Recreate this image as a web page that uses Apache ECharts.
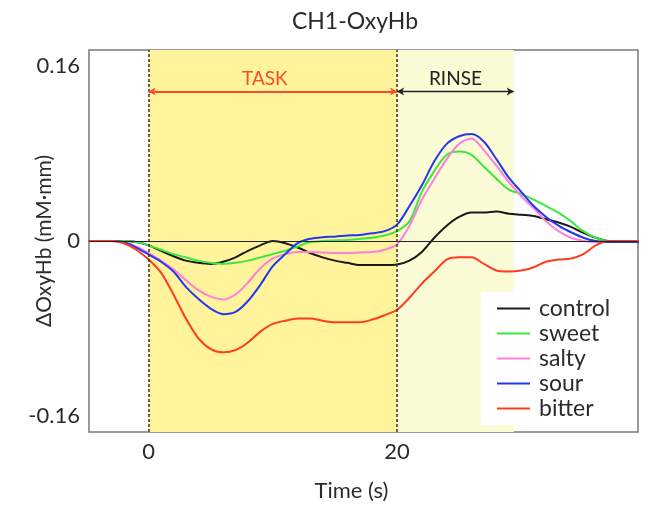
<!DOCTYPE html>
<html>
<head>
<meta charset="utf-8">
<script src="https://cdn.jsdelivr.net/npm/echarts@6/dist/echarts.min.js"></script>
<style>
    html, body { margin: 0; padding: 0; background: #fff; }
</style>
</head>
<body>
<div id="main" style="width: 648px;height:506px;"></div>
<script type="text/javascript">
    // 时间轴 (s)
    var times = [-5, -4, -3, -2, -1, 0, 1, 2, 3, 4, 5, 6, 7, 8, 9, 10, 11, 12, 13, 14, 15, 16, 17, 18, 19, 20,
        21, 22, 23, 24, 25, 26, 27, 28, 29, 30, 31, 32, 33, 34, 35, 36, 37, 38, 39, 40];

    var names = ['control', 'sweet', 'salty', 'sour', 'bitter'];
    var colors = ['#1a1a1a', '#3de83d', '#ff7fdc', '#2438ee', '#ff3c1e'];

    var control = [0, 0, 0, 0, -0.001, -0.004, -0.009, -0.014, -0.018, -0.020, -0.021, -0.019, -0.015, -0.009, -0.004, 0.000,
        -0.002, -0.006, -0.011, -0.015, -0.018, -0.020, -0.022, -0.022, -0.022, -0.0215,
        -0.018, -0.010, 0.003, 0.014, 0.022, 0.026, 0.026, 0.027, 0.025, 0.024, 0.023, 0.020, 0.017, 0.013, 0.0075, 0.003, 0, 0, 0, 0];
    var sweet = [0, 0, 0, 0, -0.001, -0.004, -0.008, -0.012, -0.015, -0.018, -0.020, -0.021, -0.020, -0.018, -0.015, -0.012,
        -0.009, -0.005, -0.001, 0.000, 0.0005, 0.001, 0.002, 0.003, 0.005, 0.009,
        0.018, 0.045, 0.064, 0.079, 0.082, 0.079, 0.068, 0.057, 0.047, 0.043, 0.038, 0.032, 0.026, 0.018, 0.009, 0.003, 0, 0, 0, 0];
    var salty = [0, 0, 0, -0.001, -0.005, -0.011, -0.018, -0.026, -0.036, -0.045, -0.051, -0.0535, -0.049, -0.038, -0.025, -0.016,
        -0.012, -0.010, -0.010, -0.0105, -0.011, -0.011, -0.0105, -0.010, -0.008, -0.003,
        0.014, 0.038, 0.057, 0.075, 0.089, 0.094, 0.083, 0.069, 0.054, 0.041, 0.030, 0.018, 0.009, 0.003, 0, -0.001, -0.001, -0.001, -0.001, -0.001];
    var sour = [0, 0, 0, -0.001, -0.006, -0.0124, -0.019, -0.028, -0.042, -0.053, -0.062, -0.067, -0.065, -0.055, -0.040, -0.023,
        -0.012, -0.002, 0.002, 0.0035, 0.004, 0.005, 0.0055, 0.007, 0.009, 0.015,
        0.032, 0.051, 0.073, 0.089, 0.096, 0.098, 0.091, 0.075, 0.058, 0.045, 0.032, 0.022, 0.014, 0.008, 0.003, 0, -0.001, -0.001, -0.001, -0.001];
    var bitter = [0, 0, 0, -0.002, -0.008, -0.017, -0.029, -0.049, -0.071, -0.089, -0.099, -0.102, -0.100, -0.093, -0.083, -0.076,
        -0.073, -0.071, -0.071, -0.073, -0.0745, -0.0745, -0.0745, -0.072, -0.068, -0.063,
        -0.052, -0.039, -0.028, -0.017, -0.015, -0.015, -0.021, -0.027, -0.028, -0.027, -0.024, -0.019, -0.017, -0.016, -0.012, -0.004, 0, 0, 0, 0];

    var yTicks = [-0.16, 0, 0.16];
    var xTicks = [0, 20];
    // 阶段: TASK 0-20 s, RINSE 20-29.4 s
    var taskStart = 0, taskEnd = 20, rinseEnd = 29.4;
    var arrowY = 0.137;

    var font = 'Lato';
    var textColor = '#2b2b2b';

    function pairs(vals) {
        return times.map(function (t, i) { return [t, vals[i]]; });
    }

    var allVals = [control, sweet, salty, sour, bitter];

    var myChart = echarts.init(document.getElementById('main'));

    var series = names.map(function (n, i) {
        return {
            name: n,
            type: 'line',
            data: pairs(allVals[i]),
            smooth: 0.3,
            showSymbol: false,
            clip: true,
            color: colors[i],
            lineStyle: { width: 2, color: colors[i] },
            z: 3
        };
    });

    // 背景、零线、虚线和箭头
    series.unshift({
        name: 'annot',
        type: 'line',
        data: [],
        silent: true,
        z: 1,
        markArea: {
            silent: true,
            data: [
                [{ xAxis: taskStart, itemStyle: { color: '#fff39c' } }, { xAxis: taskEnd }],
                [{ xAxis: taskEnd, itemStyle: { color: '#fbfbd6' } }, { xAxis: rinseEnd }]
            ]
        },
        markLine: {
            silent: true,
            symbol: ['none', 'none'],
            label: { show: false },
            data: [
                { yAxis: 0, lineStyle: { color: '#222', width: 1.2, type: 'solid' } },
                { xAxis: taskStart, lineStyle: { color: '#333', width: 1.5, type: [3, 2] } },
                { xAxis: taskEnd, lineStyle: { color: '#333', width: 1.5, type: [3, 2] } },
                [
                    { coord: [taskStart, arrowY], symbol: 'arrow', symbolSize: [6, 7],
                      lineStyle: { color: '#ff4a2a', width: 1.8, type: 'solid' },
                      label: { show: true, position: 'insideMiddleTop', formatter: 'TASK', color: '#ff4a2a',
                               fontFamily: font, fontSize: 19, distance: 3, offset: [-8, 0] } },
                    { coord: [taskEnd, arrowY], symbol: 'arrow', symbolSize: [6, 7] }
                ],
                [
                    { coord: [taskEnd, arrowY], symbol: 'arrow', symbolSize: [6, 7],
                      lineStyle: { color: '#222', width: 1.3, type: 'solid' },
                      label: { show: true, position: 'insideMiddleTop', formatter: 'RINSE', color: '#222',
                               fontFamily: font, fontSize: 19, distance: 3 } },
                    { coord: [rinseEnd, arrowY], symbol: 'arrow', symbolSize: [6, 7] }
                ]
            ]
        }
    });

    var option = {
        animation: false,
        backgroundColor: '#fff',
        title: {
            text: 'CH1-OxyHb',
            left: 350,
            top: 5,
            textAlign: 'center',
            textStyle: { fontFamily: font, fontSize: 23, fontWeight: 'normal', color: textColor }
        },
        grid: {
            left: 89,
            right: 10,
            top: 50,
            bottom: 74,
            outerBoundsMode: 'none',
            show: true,
            borderColor: '#7a7a7a',
            borderWidth: 1.5,
            backgroundColor: 'transparent'
        },
        legend: {
            data: names,
            orient: 'vertical',
            left: 481,
            top: 292,
            itemWidth: 33,
            itemHeight: 20,
            itemGap: 2,
            padding: [5, 24, 5, 16],
            backgroundColor: '#fff',
            icon: 'path://M0,9 L33,9 L33,11 L0,11 Z',
            textStyle: { fontFamily: font, fontSize: 23, color: textColor, padding: [0, 0, 0, 4] }
        },
        xAxis: {
            type: 'value',
            min: -4.8,
            max: 39.4,
            name: 'Time (s)',
            nameLocation: 'middle',
            nameGap: 48,
            nameMoveOverlap: false,
            nameTextStyle: { fontFamily: font, fontSize: 22, color: textColor, padding: [0, 24, 0, 0] },
            axisLine: { show: false },
            axisTick: { show: false },
            splitLine: { show: false },
            axisLabel: {
                customValues: xTicks,
                fontFamily: font, fontSize: 22, color: textColor, margin: 9
            }
        },
        yAxis: {
            type: 'value',
            min: -0.175,
            max: 0.175,
            name: 'ΔOxyHb (mM·mm)',
            nameLocation: 'middle',
            nameGap: 34,
            nameMoveOverlap: false,
            nameTextStyle: { fontFamily: font, fontSize: 21, color: textColor },
            axisLine: { show: false },
            axisTick: { show: false },
            splitLine: { show: false },
            axisLabel: {
                customValues: yTicks,
                fontFamily: font, fontSize: 22, color: textColor, margin: 9,
                formatter: function (v) { return String(v); }
            }
        },
        series: series
    };

    myChart.setOption(option);
</script>
</body>
</html>
